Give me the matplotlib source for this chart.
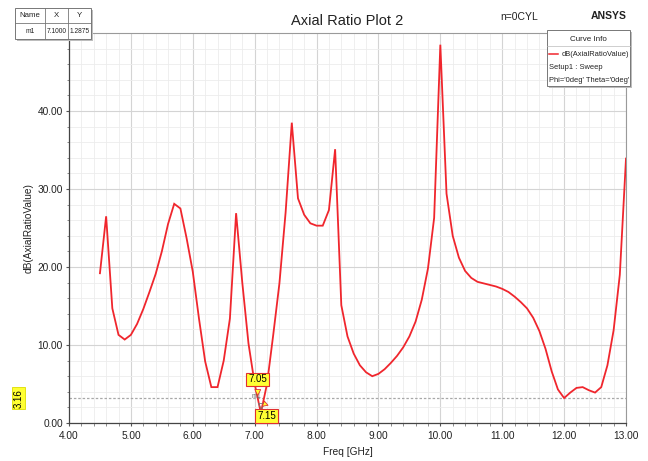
import numpy as np
import matplotlib
matplotlib.use("Agg")
import matplotlib.pyplot as plt
from matplotlib.patches import Rectangle
from matplotlib.lines import Line2D
from matplotlib.ticker import MultipleLocator, FormatStrFormatter
import matplotlib.transforms as mtransforms

plt.rcParams['font.family'] = ['Liberation Sans', 'DejaVu Sans']

# Sweep frequencies (GHz) and axial ratio (dB)
freq_ghz = [4.5, 4.6, 4.7, 4.8, 4.9, 5.0, 5.1, 5.2, 5.3, 5.4,
            5.5, 5.6, 5.7, 5.8, 5.9, 6.0, 6.1, 6.2, 6.3, 6.4,
            6.5, 6.6, 6.7, 6.8, 6.9, 7.0, 7.1, 7.2, 7.3, 7.4,
            7.5, 7.6, 7.7, 7.8, 7.9, 8.0, 8.1, 8.2, 8.3, 8.4,
            8.5, 8.6, 8.7, 8.8, 8.9, 9.0, 9.1, 9.2, 9.3, 9.4,
            9.5, 9.6, 9.7, 9.8, 9.9, 10.0, 10.1, 10.2, 10.3, 10.4,
            10.5, 10.6, 10.7, 10.8, 10.9, 11.0, 11.1, 11.2, 11.3, 11.4,
            11.5, 11.6, 11.7, 11.8, 11.9, 12.0, 12.1, 12.2, 12.3, 12.4,
            12.5, 12.6, 12.7, 12.8, 12.9, 13.0]
axial_ratio_db = [19.2, 26.5, 14.7, 11.3, 10.7, 11.3, 12.7, 14.6, 16.8, 19.1,
                  22.0, 25.5, 28.1, 27.5, 23.7, 19.4, 13.4, 7.9, 4.6, 4.6,
                  8.0, 13.4, 26.9, 18.0, 10.2, 5.03, 1.2875, 5.03, 11.3, 17.9,
                  27.0, 38.5, 28.8, 26.7, 25.6, 25.3, 25.3, 27.3, 35.1, 15.1,
                  11.1, 8.9, 7.4, 6.5, 6.0, 6.3, 6.9, 7.7, 8.6, 9.7,
                  11.1, 13.0, 15.8, 19.8, 26.3, 48.5, 29.4, 24.0, 21.2, 19.5,
                  18.6, 18.1, 17.9, 17.7, 17.5, 17.2, 16.8, 16.2, 15.5, 14.7,
                  13.5, 11.8, 9.5, 6.6, 4.3, 3.2, 3.9, 4.5, 4.6, 4.2,
                  3.9, 4.6, 7.4, 11.9, 19.0, 33.9]

threshold_db = 3.16
marker_name = "m1"
marker_freq = 7.1
marker_value = 1.2875

x_ticks = [4.0, 5.0, 6.0, 7.0, 8.0, 9.0, 10.0, 11.0, 12.0, 13.0]
y_ticks = [0.0, 10.0, 20.0, 30.0, 40.0]

W, H = 648, 461
fig = plt.figure(figsize=(W / 100, H / 100), dpi=100)
fig.patch.set_facecolor('white')
ax = fig.add_axes([69 / W, 1 - 423 / H, (626 - 69) / W, (423 - 33) / H])

ax.set_xlim(4.0, 13.0)
ax.set_ylim(0.0, 50.0)
ax.set_xticks(x_ticks)
ax.set_yticks(y_ticks)
ax.xaxis.set_minor_locator(MultipleLocator(0.2))
ax.yaxis.set_minor_locator(MultipleLocator(2.0))
ax.xaxis.set_major_formatter(FormatStrFormatter('%.2f'))
ax.yaxis.set_major_formatter(FormatStrFormatter('%.2f'))
ax.tick_params(axis='both', which='major', direction='out', length=2.5,
               width=0.8, color='#555555', labelsize=7.3,
               labelcolor='#222222')
ax.tick_params(axis='y', which='major', pad=2)
ax.tick_params(axis='x', which='major', pad=3.5)
ax.tick_params(axis='both', which='minor', direction='out', length=1.8,
               width=0.6, color='#777777')

ax.grid(which='major', color='#d4d4d4', lw=0.8)
ax.grid(which='minor', color='#ececec', lw=0.6)
ax.set_axisbelow(True)
for side in ['top', 'right']:
    ax.spines[side].set_color('#9a9a9a')
    ax.spines[side].set_linewidth(0.8)
for side in ['left', 'bottom']:
    ax.spines[side].set_color('#444444')
    ax.spines[side].set_linewidth(0.9)

# Threshold line
ax.axhline(threshold_db, color='#a8a8a8', lw=0.9, ls=(0, (2, 1.5)), zorder=2)

# Curve
ax.plot(freq_ghz, axial_ratio_db, color='#f0262d', lw=1.3, zorder=3,
        solid_joinstyle='miter')

ax.set_xlabel('Freq [GHz]', fontsize=7.3, labelpad=4, color='#222222')
ax.set_ylabel('dB(AxialRatioValue)', fontsize=7.3, color='#222222')
ax.yaxis.set_label_coords(-0.063, 0.5)
ax.set_title('Axial Ratio Plot 2', fontsize=10.5, pad=6, color='#222222')

# Threshold crossings around the marker
f = np.array(freq_ghz)
v = np.array(axial_ratio_db)
i = int(np.argmin(np.abs(f - marker_freq)))
left_x = np.interp(threshold_db, [v[i], v[i - 1]], [f[i], f[i - 1]])
right_x = np.interp(threshold_db, [v[i], v[i + 1]], [f[i], f[i + 1]])

box = dict(boxstyle='square,pad=0.2', fc='#ffff33', ec='#e03030', lw=0.8)
wedge = dict(arrowstyle='wedge,tail_width=0.6,shrink_factor=0.5',
             fc='#ffff33', ec='#e03030', lw=0.6)
ax.annotate(f'{left_x:.2f}', xy=(left_x, threshold_db), xytext=(0, 10),
            textcoords='offset points', ha='center', va='bottom',
            fontsize=7, bbox=box, arrowprops=wedge, zorder=6,
            annotation_clip=False)
ax.annotate(f'{right_x:.2f}', xy=(right_x, threshold_db), xytext=(2, -9),
            textcoords='offset points', ha='center', va='top',
            fontsize=7, bbox=box, arrowprops=wedge, zorder=6,
            annotation_clip=False)

# Marker m1
ax.plot([marker_freq], [marker_value + 0.9], marker='v', ms=4, mfc='none',
        mec='#777777', mew=0.6, zorder=5)
ax.text(marker_freq - 0.07, marker_value + 1.6, marker_name, fontsize=5,
        color='#666666', ha='center', va='bottom', zorder=5)

# Threshold value label left of the axis
trans = mtransforms.blended_transform_factory(ax.transAxes, ax.transData)
ax.text(-0.090, threshold_db, f'{threshold_db:.2f}', transform=trans,
        rotation=90, ha='center', va='center', fontsize=7,
        bbox=dict(boxstyle='square,pad=0.15', fc='#ffff33', ec='#dddd00', lw=0.6))


def fx(px):
    return px / W


def fy(py):
    return 1 - py / H


# Marker table (top left)
tab_l, tab_r, tab_t, tab_b = 15, 91, 8, 39
cols = [15, 45, 68, 91]
row_mid = 23.5
fig.add_artist(Rectangle((fx(tab_l + 2), fy(tab_b + 2)), (tab_r - tab_l) / W,
                         (tab_b - tab_t) / H, transform=fig.transFigure,
                         fc='#bdbdbd', ec='none', zorder=1))
fig.add_artist(Rectangle((fx(tab_l), fy(tab_b)), (tab_r - tab_l) / W,
                         (tab_b - tab_t) / H, transform=fig.transFigure,
                         fc='white', ec='#777777', lw=0.7, zorder=2))
fig.add_artist(Line2D([fx(tab_l), fx(tab_r)], [fy(row_mid), fy(row_mid)],
                      transform=fig.transFigure, color='#777777', lw=0.6, zorder=3))
for c in cols[1:-1]:
    fig.add_artist(Line2D([fx(c), fx(c)], [fy(tab_t), fy(tab_b)],
                          transform=fig.transFigure, color='#777777', lw=0.6, zorder=3))
headers = ['Name', 'X', 'Y']
values = [marker_name, f'{marker_freq:.4f}', f'{marker_value:.4f}']
for k in range(3):
    cx = (cols[k] + cols[k + 1]) / 2
    fig.text(fx(cx), fy(15.8), headers[k], ha='center', va='center',
             fontsize=5.6, color='#222222', zorder=4)
    fig.text(fx(cx), fy(31.5), values[k], ha='center', va='center',
             fontsize=4.8, color='#222222', zorder=4)

# Header texts (top right)
fig.text(fx(500), fy(17), 'n=0CYL', ha='left', va='center', fontsize=7.5,
         color='#222222')
fig.text(fx(609), fy(16), 'ANSYS', ha='center', va='center', fontsize=7.5,
         fontweight='bold', color='#222222')

# Curve info box
leg_l, leg_r, leg_t, leg_b = 547, 630, 30, 86
fig.add_artist(Rectangle((fx(leg_l + 2), fy(leg_b + 2)), (leg_r - leg_l) / W,
                         (leg_b - leg_t) / H, transform=fig.transFigure,
                         fc='#bdbdbd', ec='none', zorder=5))
fig.add_artist(Rectangle((fx(leg_l), fy(leg_b)), (leg_r - leg_l) / W,
                         (leg_b - leg_t) / H, transform=fig.transFigure,
                         fc='white', ec='#777777', lw=0.7, zorder=6))
fig.add_artist(Line2D([fx(leg_l), fx(leg_r)], [fy(46), fy(46)],
                      transform=fig.transFigure, color='#bbbbbb', lw=0.5, zorder=7))
fig.text(fx((leg_l + leg_r) / 2), fy(39), 'Curve Info', ha='center', va='center',
         fontsize=5.8, color='#222222', zorder=8)
fig.add_artist(Line2D([fx(549), fx(558)], [fy(53.5), fy(53.5)],
                      transform=fig.transFigure, color='#f0262d', lw=1.1, zorder=8))
fig.text(fx(629), fy(54), 'dB(AxialRatioValue)', ha='right', va='center',
         fontsize=5.4, color='#222222', zorder=8)
fig.text(fx(549), fy(67.5), 'Setup1 : Sweep', ha='left', va='center',
         fontsize=5.4, color='#222222', zorder=8)
fig.text(fx(549), fy(80.5), "Phi='0deg' Theta='0deg'", ha='left', va='center',
         fontsize=5.4, color='#222222', zorder=8)

fig.savefig('out.png', dpi=100)
